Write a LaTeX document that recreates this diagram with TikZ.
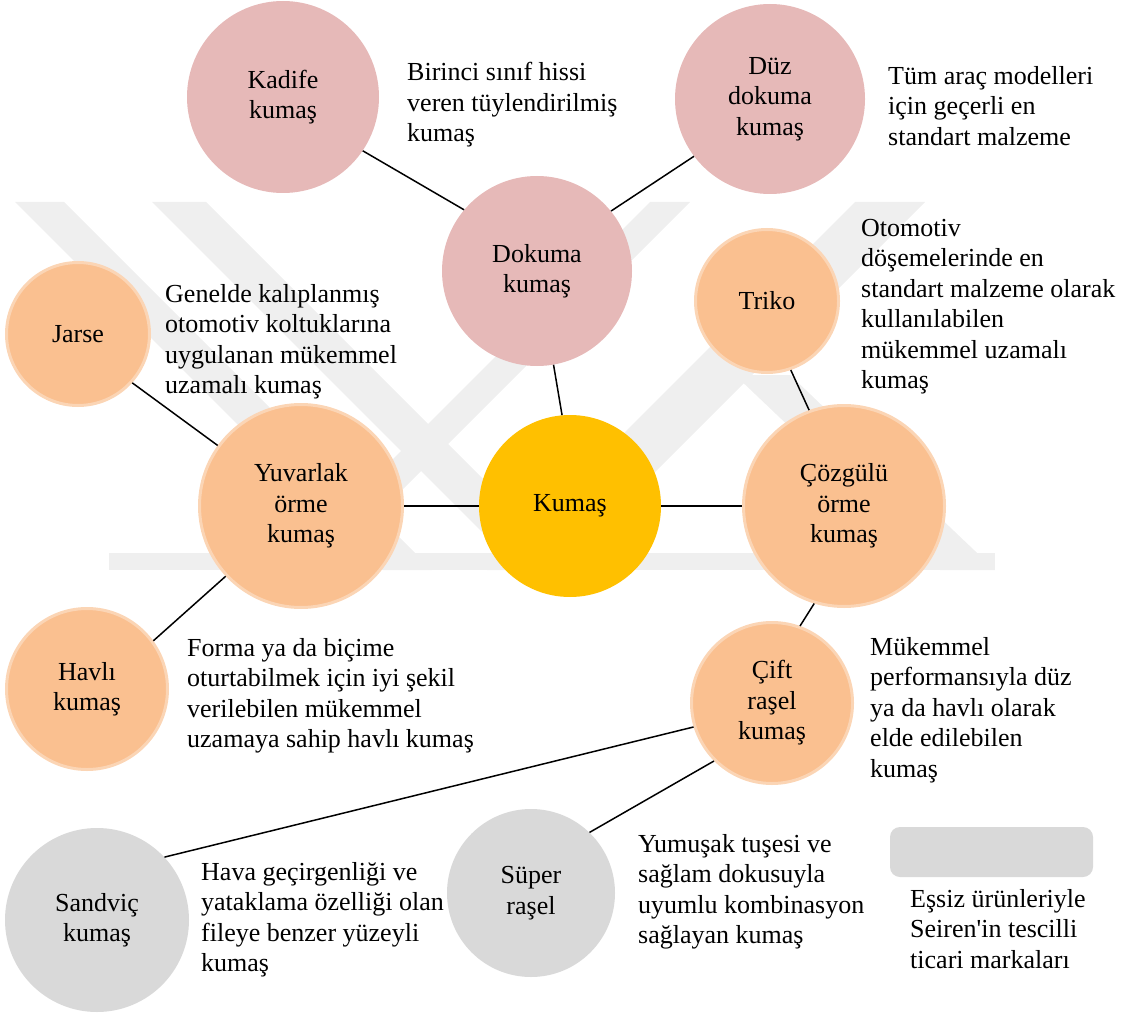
\documentclass[tikz,border=0pt]{standalone}
\usepackage{fontspec}
\setmainfont{Liberation Serif}
\newfontfamily\plainserif{Liberation Serif}
\usepackage{tikz}
\usetikzlibrary{positioning, calc}

\definecolor{pinkfill}{HTML}{E6B9B8}
\definecolor{orangefill}{HTML}{FAC090}
\definecolor{orangeedge}{HTML}{FBD5B5}
\definecolor{corefill}{HTML}{FFC000}
\definecolor{greyfill}{HTML}{D9D9D9}
\definecolor{wmark}{HTML}{EFEFEF}

\tikzset{
  bubble/.style={circle, inner sep=0pt, align=center, font=\fontsize{26}{30.5}\selectfont},
  dokumabub/.style={bubble, fill=pinkfill},
  ormebub/.style={bubble, fill=orangefill, draw=orangeedge, line width=3pt},
  markabub/.style={bubble, fill=greyfill},
  note/.style={anchor=north west, inner sep=0pt, align=left, font=\fontsize{26}{30.5}\selectfont},
  link/.style={line width=1.5pt}
}

\begin{document}
\begin{tikzpicture}[x=1pt, y=-1pt]
            \useasboundingbox (0,0) rectangle (1134,1016);
            % watermark in the background
            \fill[wmark] (15,202) -- (64,202) -- (432,570) -- (383,570) -- cycle;
            \fill[wmark] (152,202) -- (206,202) -- (574,570) -- (520,570) -- cycle;
            \fill[wmark] (650,202) -- (690,202) -- (322,570) -- (282,570) -- cycle;
            \fill[wmark] (855,202) -- (925,202) -- (557,570) -- (487,570) -- cycle;
            \fill[wmark] (735,375) -- (790,375) -- (995,570) -- (940,570) -- cycle;
            \fill[wmark] (109,553) rectangle (995,570);

            % bubbles
            \node[dokumabub, minimum size=192] (kadife) at (283,97) {Kadife\\kumaş};
            \node[dokumabub, minimum size=190] (duz) at (770,99) {Düz\\dokuma\\kumaş};
            \node[dokumabub, minimum size=190] (dokuma) at (537,271) {Dokuma\\kumaş};
            \node[ormebub, minimum size=143] (triko) at (767,301) {Triko};
            \node[ormebub, minimum size=143] (jarse) at (78,334) {Jarse};
            \node[ormebub, minimum size=203] (yuvarlak) at (301,506) {Yuvarlak\\örme\\kumaş};
            \node[bubble, fill=corefill, minimum size=182] (kumas) at (570,506) {Kumaş};
            \node[ormebub, minimum size=201] (cozgulu) at (844,506) {Çözgülü\\örme\\kumaş};
            \node[ormebub, minimum size=161] (havli) at (87,689) {Havlı\\kumaş};
            \node[ormebub, minimum size=161] (cift) at (772,703) {Çift\\raşel\\kumaş};
            \node[markabub, minimum size=184] (sandvic) at (97,920) {Sandviç\\kumaş};
            \node[markabub, minimum size=168] (super) at (531,893) {Süper\\raşel};
            \node[fill=greyfill, rounded corners=10pt, minimum width=203, minimum height=50, inner sep=0pt] (marka) at (991.5,852) {};

            % links
            \draw[link] (kadife.-34) -- (dokuma.140);
            \draw[link] (duz.-143) -- (dokuma.39);
            \draw[link] (dokuma.-80) -- (kumas.95);
            \draw[link] (triko.-71) -- (cozgulu.110);
            \draw[link] (jarse.-42) -- (yuvarlak.144);
            \draw[link] (yuvarlak) -- (kumas);
            \draw[link] (kumas) -- (cozgulu);
            \draw[link] (havli.36) -- (yuvarlak.-137);
            \draw[link] (cozgulu.-107) -- (cift.70);
            \draw[link] (cift.-163) -- (sandvic.43);
            \draw[link] (cift.-135) -- (super.46);

            % descriptions
            \node[note] (birinci) at (407,62) {Birinci sınıf hissi\\veren tüylendirilmiş\\kumaş};
            \node[note] (tum) at (888,66) {Tüm araç modelleri\\için geçerli en\\standart malzeme};
            \node[note] (otomotiv) at (861,219) {Otomotiv\\döşemelerinde en\\standart malzeme olarak\\kullanılabilen\\mükemmel uzamalı\\kumaş};
            \node[note] (genelde) at (165,284) {Genelde kalıplanmış\\otomotiv koltuklarına\\uygulanan mükemmel\\uzamalı kumaş};
            \node[note] (forma) at (187,638) {Forma ya da biçime\\oturtabilmek için iyi şekil\\verilebilen mükemmel\\uzamaya sahip havlı kumaş};
            \node[note] (performans) at (870,637) {Mükemmel\\performansıyla düz\\ya da havlı olarak\\elde edilebilen\\kumaş};
            \node[note] (hava) at (201,862) {Hava geçirgenliği ve\\yataklama özelliği olan\\fileye benzer yüzeyli\\kumaş};
            \node[note] (yumusak) at (638,834) {Yumuşak tuşesi ve\\sağlam dokusuyla\\uyumlu kombinasyon\\sağlayan kumaş};
            \node[note] (essiz) at (910,889) {Eşsiz ürünleriyle\\Seiren{\plainserif '}in tescilli\\ticari markaları};
        \end{tikzpicture}
\end{document}
